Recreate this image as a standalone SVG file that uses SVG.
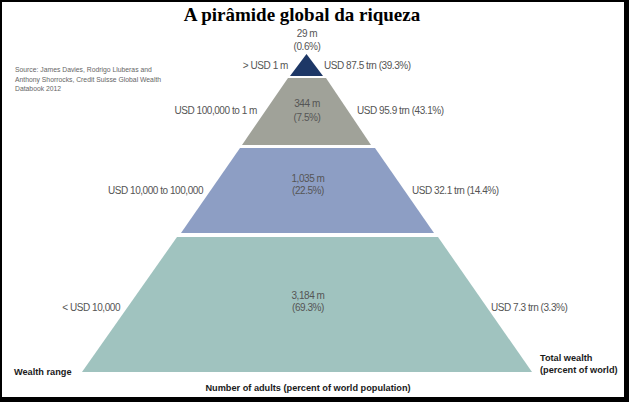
<svg xmlns="http://www.w3.org/2000/svg" width="629" height="402" viewBox="0 0 629 402">
  <style>
    .lbl { font-family: "Liberation Sans", Arial, sans-serif; font-size: 10px; letter-spacing: -0.45px; fill: #555; }
    .mid { text-anchor: middle; }
    .end { text-anchor: end; }
    .bold { font-family: "Liberation Sans", Arial, sans-serif; font-size: 9.2px; font-weight: bold; fill: #1a1a1a; }
    .src { font-family: "Liberation Sans", Arial, sans-serif; font-size: 6.8px; fill: #666; }
    .title { font-family: "Liberation Serif", "Times New Roman", serif; font-size: 19px; font-weight: bold; fill: #000; text-anchor: middle; }
  </style>
  <rect x="0" y="0" width="629" height="402" fill="#000"/>
  <rect x="2" y="2" width="622" height="395" fill="#fff"/>

  <text class="title" x="302" y="21">A pirâmide global da riqueza</text>

  <g id="source">
    <text class="src" x="15" y="72">Source: James Davies, Rodrigo Lluberas and</text>
    <text class="src" x="15" y="81.5">Anthony Shorrocks, Credit Suisse Global Wealth</text>
    <text class="src" x="15" y="91">Databook 2012</text>
  </g>

  <g id="tier-top">
    <polygon points="306.5,54 290,76 323,76" fill="#1d3766"/>
    <text class="lbl mid" x="307" y="37">29 m</text>
    <text class="lbl mid" x="307" y="50">(0.6%)</text>
    <text class="lbl end" x="288" y="69">&gt; USD 1 m</text>
    <text class="lbl" x="324" y="69">USD 87.5 trn (39.3%)</text>
  </g>

  <g id="tier-2">
    <polygon points="288,78 326,78 371,145 242,145" fill="#a0a299"/>
    <text class="lbl mid" x="307" y="106.5">344 m</text>
    <text class="lbl mid" x="307" y="120.5">(7.5%)</text>
    <text class="lbl end" x="257" y="113.5">USD 100,000 to 1 m</text>
    <text class="lbl" x="357" y="113.5">USD 95.9 trn (43.1%)</text>
  </g>

  <g id="tier-3">
    <polygon points="240,148 375,148 434,233 181,233" fill="#8d9ec4"/>
    <text class="lbl mid" x="308" y="181.5">1,035 m</text>
    <text class="lbl mid" x="308" y="193.5">(22.5%)</text>
    <text class="lbl end" x="203" y="193.5">USD 10,000 to 100,000</text>
    <text class="lbl" x="412" y="193.5">USD 32.1 trn (14.4%)</text>
  </g>

  <g id="tier-4">
    <polygon points="177,237 438,237 532,372 82,372" fill="#a0c3bf"/>
    <text class="lbl mid" x="308" y="298.5">3,184 m</text>
    <text class="lbl mid" x="308" y="310.5">(69.3%)</text>
    <text class="lbl end" x="120" y="310.5">&lt; USD 10,000</text>
    <text class="lbl" x="491" y="310.5">USD 7.3 trn (3.3%)</text>
  </g>

  <g id="axis-labels">
    <text class="bold" x="14" y="374.5">Wealth range</text>
    <text class="bold" x="540" y="360.5">Total wealth</text>
    <text class="bold" x="540" y="372.5">(percent of world)</text>
    <text class="bold mid" x="308" y="391">Number of adults (percent of world population)</text>
  </g>
</svg>
